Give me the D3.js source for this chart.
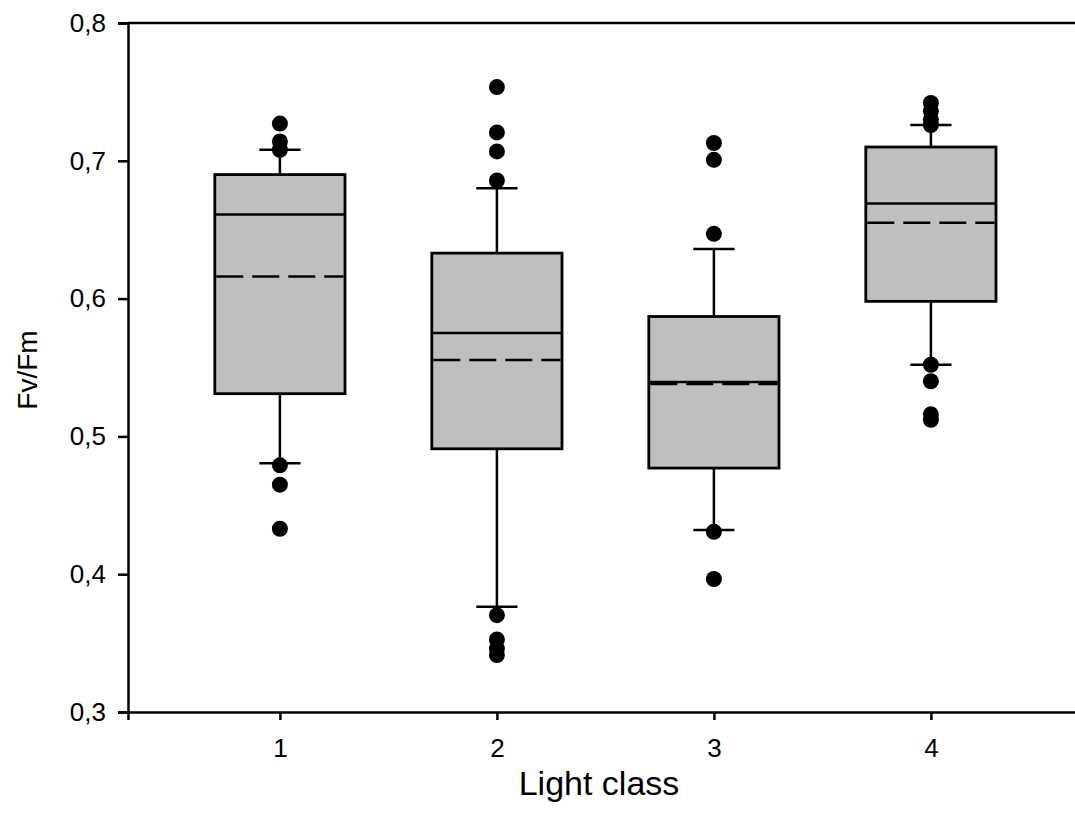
<!DOCTYPE html>
<html>
<head>
<meta charset="utf-8">
<script src="https://cdn.jsdelivr.net/npm/d3@7/dist/d3.min.js"></script>
<style>
  html, body { margin: 0; padding: 0; background: #fff; }
  svg { display: block; }
  text { font-family: Arial, "Liberation Sans", sans-serif; fill: #000; }
</style>
</head>
<body>
<svg id="chart" width="1075" height="827"></svg>
<script>
// ---- data ----
const categories = [1, 2, 3, 4];
const q1 = [0.531, 0.491, 0.477, 0.598];
const q3 = [0.690, 0.633, 0.587, 0.710];
const medians = [0.661, 0.575, 0.5395, 0.669];
const means = [0.616, 0.5555, 0.538, 0.655];
const whiskerLow = [0.4805, 0.3763, 0.432, 0.552];
const whiskerHigh = [0.708, 0.680, 0.636, 0.726];
const outliers = [
  [0.727, 0.714, 0.708, 0.479, 0.465, 0.433],
  [0.7535, 0.7206, 0.7068, 0.6857, 0.3703, 0.3527, 0.346, 0.3413],
  [0.7129, 0.7007, 0.647, 0.4308, 0.3965],
  [0.742, 0.736, 0.730, 0.726, 0.552, 0.540, 0.516, 0.512]
];
const yTicks = [0.3, 0.4, 0.5, 0.6, 0.7, 0.8];
const xLabel = "Light class";
const yLabel = "Fv/Fm";

// ---- layout ----
const svg = d3.select("#chart");
const mLeft = 128, mTop = 23, mBottom = 712;
const x = d3.scaleLinear().domain([0.3, 4.7]).range([mLeft, mLeft + 4.4 * 217]);
const y = d3.scaleLinear().domain([0.3, 0.8]).range([mBottom, mTop]);
const boxW = 0.6;      // in x units
const capW = 0.19;     // in x units
const dotR = 8;

const data = categories.map((c, i) => ({
  c, q1: q1[i], q3: q3[i], med: medians[i], mean: means[i],
  lo: whiskerLow[i], hi: whiskerHigh[i], out: outliers[i]
}));

const g = svg.append("g");
const bx = g.selectAll("g.box").data(data).join("g").attr("class", "box");

// whiskers
bx.append("line")
  .attr("x1", d => x(d.c)).attr("x2", d => x(d.c))
  .attr("y1", d => y(d.q3)).attr("y2", d => y(d.hi))
  .attr("stroke", "#000").attr("stroke-width", 2.5);
bx.append("line")
  .attr("x1", d => x(d.c)).attr("x2", d => x(d.c))
  .attr("y1", d => y(d.q1)).attr("y2", d => y(d.lo))
  .attr("stroke", "#000").attr("stroke-width", 2.5);
// caps
bx.append("line")
  .attr("x1", d => x(d.c - capW / 2)).attr("x2", d => x(d.c + capW / 2))
  .attr("y1", d => y(d.hi)).attr("y2", d => y(d.hi))
  .attr("stroke", "#000").attr("stroke-width", 2.5);
bx.append("line")
  .attr("x1", d => x(d.c - capW / 2)).attr("x2", d => x(d.c + capW / 2))
  .attr("y1", d => y(d.lo)).attr("y2", d => y(d.lo))
  .attr("stroke", "#000").attr("stroke-width", 2.5);

// box rect
bx.append("rect")
  .attr("x", d => x(d.c - boxW / 2))
  .attr("width", d => x(d.c + boxW / 2) - x(d.c - boxW / 2))
  .attr("y", d => y(d.q3))
  .attr("height", d => y(d.q1) - y(d.q3))
  .attr("fill", "#bfbfbf").attr("stroke", "#000").attr("stroke-width", 2.8);

// mean (dashed)
bx.append("line")
  .attr("x1", d => x(d.c - boxW / 2) + 1.5).attr("x2", d => x(d.c + boxW / 2) - 1.5)
  .attr("y1", d => y(d.mean)).attr("y2", d => y(d.mean))
  .attr("stroke", "#000").attr("stroke-width", 2.5)
  .attr("stroke-dasharray", "27,9");
// median (solid)
bx.append("line")
  .attr("x1", d => x(d.c - boxW / 2)).attr("x2", d => x(d.c + boxW / 2))
  .attr("y1", d => y(d.med)).attr("y2", d => y(d.med))
  .attr("stroke", "#000").attr("stroke-width", 2.5);

// outliers
bx.selectAll("circle").data(d => d.out.map(v => ({ c: d.c, v })))
  .join("circle")
  .attr("cx", d => x(d.c)).attr("cy", d => y(d.v)).attr("r", dotR)
  .attr("fill", "#000");

// ---- axes ----
const fmt = v => d3.format(".1f")(v).replace(".", ",");
const yAxis = svg.append("g")
  .attr("transform", `translate(${mLeft},0)`)
  .call(d3.axisLeft(y).tickValues(yTicks).tickFormat(fmt).tickSizeOuter(0).tickSize(10).tickPadding(12));
yAxis.attr("font-size", 26).attr("font-family", "Arial, 'Liberation Sans', sans-serif");
yAxis.select(".domain").attr("stroke-width", 2.5);
yAxis.selectAll(".tick line").attr("stroke-width", 2.5);

const xAxis = svg.append("g")
  .attr("transform", `translate(0,${mBottom})`)
  .call(d3.axisBottom(x).tickValues(categories).tickFormat(d3.format("d")).tickSizeOuter(0).tickSize(8).tickPadding(19));
xAxis.attr("font-size", 26).attr("font-family", "Arial, 'Liberation Sans', sans-serif");
xAxis.select(".domain").attr("stroke-width", 2.5);
xAxis.selectAll(".tick line").attr("stroke-width", 2.5);

// top frame line
svg.append("line")
  .attr("x1", mLeft).attr("x2", x.range()[1])
  .attr("y1", y(0.8)).attr("y2", y(0.8))
  .attr("stroke", "#000").attr("stroke-width", 2.5);

// titles
svg.append("text")
  .attr("x", 599).attr("y", 795)
  .attr("text-anchor", "middle").attr("font-size", 34)
  .text(xLabel);
svg.append("text")
  .attr("transform", `translate(37,370) rotate(-90)`)
  .attr("text-anchor", "middle").attr("font-size", 28)
  .text(yLabel);
</script>
</body>
</html>
